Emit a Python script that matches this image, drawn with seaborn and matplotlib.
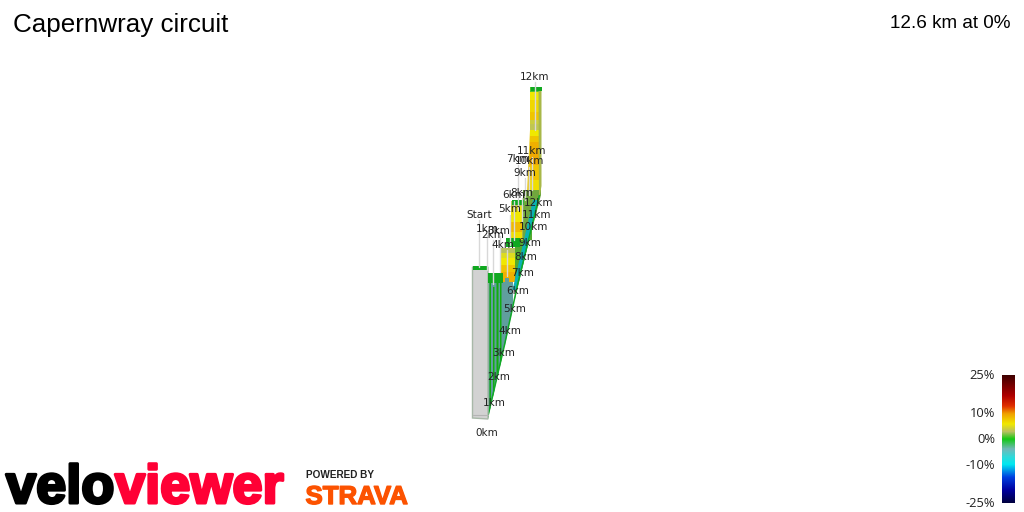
import numpy as np
import matplotlib
matplotlib.use("Agg")
import matplotlib.pyplot as plt
from matplotlib.colors import LinearSegmentedColormap
from matplotlib import patheffects as pe
import seaborn as sns

sns.set_theme(style="white")

TITLE = "Capernwray circuit"
SUMMARY = "12.6 km at 0%"

# gradient scale
grade_stops = [-25, -20, -15, -10, -7, -4, 0, 3, 6, 10, 13, 17, 25]
grade_colors = ["#000040", "#0000a0", "#0040e0", "#00e8f0", "#30d8d8", "#70b8b8", "#10c810",
                "#b8c060", "#f0e800", "#f0a000", "#e03000", "#b00000", "#400000"]
scale_ticks = [25, 10, 0, -10, -25]
scale_labels = ["25%", "10%", "0%", "-10%", "-25%"]

# front edge of the model: x, y in the projected view
edge_x = [488, 505, 518, 540]
edge_y = [418, 345, 285, 195]

# start block
block_x = [472.5, 488]
block_top = [267, 267]
block_bottom = [418, 419]

# walls seen side on: left, right, top, grade
wall_left =  [523, 515, 488, 489.5, 493, 496.5, 500, 505]
wall_right = [541, 532, 513, 491, 494.5, 498.5, 501.5, 509]
wall_top =   [190, 240, 282, 282, 287, 280, 276, 278]
wall_grade = [2, 1.5, -4, 0, 0, 0, 0, -4]

# bright strip running beside the front edge
strip_left =  [512.5, 533]
strip_right = [517, 538.5]
strip_y =     [290, 200]
strip_grade = -9

# three yellow climbs: stacked bands top to bottom
t1_x = [529.5, 540.5]
t1_y = [87, 92, 100, 112, 120, 124, 130, 136, 142, 152, 165, 180, 192]
t1_g = [1, 6, 7, 8, 4, 3.5, 6, 8, 9, 9.5, 8, 6.5]

t2_x = [511, 523]
t2_y = [201, 206, 212, 222, 232, 240]
t2_g = [3, 5.5, 6, 8.5, 6.5]

t3_x = [500, 515]
t3_y = [248, 253, 258, 265, 272, 282]
t3_g = [3, 5, 6, 8, 9]

# green caps: left, right, top, bottom
cap_left =   [472.5, 488, 506, 512, 531]
cap_right =  [488, 503, 520, 524, 542]
cap_top =    [265, 272, 237, 199, 86]
cap_bottom = [270, 283, 247, 205, 91]

# km labels on the near leg
near_labels = ["0km", "1km", "2km", "3km", "4km", "5km", "6km", "7km", "8km", "9km", "10km", "11km", "12km"]
near_x = [487, 494, 499, 504, 510, 515, 518, 523, 526, 530, 533, 537, 539]
near_y = [432, 403, 376, 352, 330, 309, 290, 273, 257, 242, 227, 214, 202]

# km labels on the far leg, with their leader lines
far_labels = ["Start", "1km", "2km", "3km", "4km", "5km", "6km", "7km", "8km", "9km", "10km", "11km", "12km"]
far_x = [479, 487, 493, 499, 503, 510, 514, 518, 522, 525, 529, 532, 535]
far_y = [214, 229, 234, 230, 244, 209, 195, 159, 192, 172, 161, 151, 76]
far_leader = [479, 487, 493, 500, 507, 510, 514, 518, 522, 525, 529, 532, 535]
far_end = [267, 270, 284, 272, 276, 245, 240, 210, 222, 200, 195, 190, 130]

grade_cmap = LinearSegmentedColormap.from_list(
    "grade", [((g + 25) / 50, c) for g, c in zip(grade_stops, grade_colors)], N=256)


def col(g, shade=1.0):
    r, g2, b, _ = grade_cmap((g + 25) / 50)
    return (r * shade, g2 * shade, b * shade)


def edge_at(x):
    return np.interp(x, edge_x, edge_y)


fig = plt.figure(figsize=(10.24, 5.12), dpi=100, facecolor="white")
ax = fig.add_axes([0, 0, 1, 1])
ax.set_xlim(0, 1024)
ax.set_ylim(512, 0)
ax.axis("off")


def stack(xs, ys, gs, z):
    for i, g in enumerate(gs):
        ax.fill_between(xs, ys[i], ys[i + 1], color=col(g), lw=0, zorder=z)


# far climbs
stack(t1_x, t1_y, t1_g, 2)
stack(t2_x, t2_y, t2_g, 2)
stack(t3_x, t3_y, t3_g, 2)
ax.fill([529.5, 529.5, 527], [130, 192, 192], color="#e8c820", lw=0, zorder=2.1)
ax.fill_between([521.5, 523.5], 205, 240, color="#a8b848", lw=0, zorder=2.1)

# walls closing on the front edge
for i, (l, r, t, g) in enumerate(zip(wall_left, wall_right, wall_top, wall_grade)):
    ax.fill([l, r, r, l], [t, t, edge_at(r), edge_at(l)], color=col(g, 0.86), lw=0, zorder=3 + i * 0.01)

# olive side of the long climb
ax.fill([538.5, 541.5, 541.5, 539], [91, 91, 186, 200], color="#a8b848", lw=0, zorder=3.3)

ax.fill([strip_left[0], strip_left[1], strip_right[1], strip_right[0]],
        [strip_y[0], strip_y[1], strip_y[1], strip_y[0]],
        color=col(strip_grade, 0.78), lw=0, zorder=3.4)

# green outer rim along the front edge
rim_x = np.array(edge_x, dtype=float)
rim_y = np.array(edge_y, dtype=float)
ax.plot(rim_x - 0.5, rim_y, color="#10a828", lw=1.1, zorder=3.5, solid_capstyle="butt")

# start block
ax.fill([block_x[0], block_x[1], block_x[1], block_x[0]],
        [block_top[0], block_top[1], block_bottom[1], block_bottom[0]],
        facecolor="#d2d2d2", edgecolor="#a8b8a8", lw=1, zorder=4)
ax.plot(block_x, [415, 415], color="#b4b4b4", lw=0.8, zorder=4.1)

for l, r, t, b in zip(cap_left, cap_right, cap_top, cap_bottom):
    ax.fill_between([l, r], t + 1, b, color="#10a820", lw=0, zorder=4.2)

# leader lines and labels
for x, y, e in zip(far_leader, far_y, far_end):
    ax.plot([x, x], [y + 6, e], color="#d8d8d8", lw=1, zorder=5)

for lab, x, y in zip(near_labels + far_labels, near_x + far_x, near_y + far_y):
    ax.text(x, y + 0.5, lab, ha="center", va="center", fontsize=7.5, color="#222222",
            family="DejaVu Sans", zorder=6)

# titles
ax.text(13, 25, TITLE, ha="left", va="center", fontsize=18.7, color="black", family="Liberation Sans")
ax.text(1011, 23, SUMMARY, ha="right", va="center", fontsize=13.6, color="black", family="Liberation Sans")

# logos as text
stroke_k = [pe.withStroke(linewidth=2.2, foreground="black")]
stroke_r = [pe.withStroke(linewidth=2.2, foreground="#ff0035")]
ax.text(6, 503, "velo", ha="left", va="baseline", fontsize=39, fontweight="bold", color="black",
        family="Liberation Sans", path_effects=stroke_k)
ax.text(115, 503, "viewer", ha="left", va="baseline", fontsize=39, fontweight="bold", color="#ff0035",
        family="Liberation Sans", path_effects=stroke_r)
ax.text(306, 478, "POWERED BY", ha="left", va="baseline", fontsize=7.2, fontweight="bold", color="#222222",
        family="Liberation Sans")
ax.text(305.5, 504, "STRAVA", ha="left", va="baseline", fontsize=18.6, fontweight="bold", color="#fc5200",
        family="Liberation Sans", path_effects=[pe.withStroke(linewidth=1, foreground="#fc5200")])

# colour scale as a one-column heatmap
px_l, px_r, px_t, px_b = 1002, 1015, 375, 503
cax = fig.add_axes([px_l / 1024, 1 - px_b / 512, (px_r - px_l) / 1024, (px_b - px_t) / 512])
scale_values = np.linspace(25, -25, px_b - px_t).reshape(-1, 1)
sns.heatmap(scale_values, ax=cax, cmap=grade_cmap, vmin=-25, vmax=25, cbar=False,
            xticklabels=False, yticklabels=False)
cax.set_axis_off()
for t, lab in zip(scale_ticks, scale_labels):
    y = px_t + (25 - t) / 50 * (px_b - px_t)
    ax.text(995, y + 0.5, lab, ha="right", va="center", fontsize=9.3, color="#222222", family="Open Sans")

fig.savefig("out.png", dpi=100, facecolor="white")
